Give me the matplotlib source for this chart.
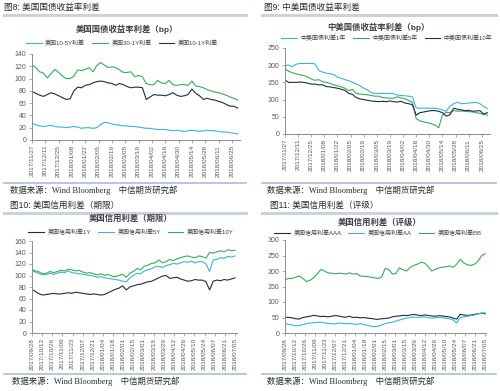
import matplotlib
matplotlib.use("Agg")
import matplotlib.pyplot as plt
import matplotlib.dates as mdates
from matplotlib.lines import Line2D
import pandas as pd

plt.rcParams['font.family'] = ['Liberation Sans', 'Noto Sans CJK SC']

# ---- data ----
dates_a = pd.date_range('2017-11-27', periods=55, freq='4D')
ticks_a = pd.date_range('2017-11-27', '2018-06-25', freq='14D')

us_10_5 = [27, 25, 23, 22, 23, 24, 22, 21, 21, 20, 21, 22, 21, 19, 20, 20, 19, 20, 25, 29,
           28, 26, 25, 24, 23, 23, 22, 22, 21, 20, 19, 19, 18, 17, 17, 17, 16, 15, 16, 15,
           14, 15, 16, 15, 14, 15, 16, 15, 15, 14, 13, 13, 12, 11, 10]
us_30_1 = [122, 118, 111, 109, 101, 108, 115, 110, 104, 100, 100, 104, 114, 113, 115, 118, 111, 121, 126, 122,
           118, 119, 118, 114, 110, 110, 111, 103, 105, 103, 92, 90, 90, 97, 93, 92, 97, 90, 89, 90,
           90, 89, 96, 88, 87, 85, 82, 80, 78, 77, 75, 73, 70, 68, 65]
us_10_1 = [79, 76, 73, 71, 74, 77, 75, 72, 69, 66, 67, 80, 86, 85, 89, 90, 93, 95, 96, 95,
           93, 92, 89, 92, 90, 87, 85, 86, 86, 85, 66, 70, 74, 73, 73, 72, 74, 77, 73, 71,
           72, 74, 83, 76, 72, 66, 68, 66, 65, 63, 61, 58, 55, 55, 52]

cn_us_1y = [199, 200, 196, 203, 205, 205, 205, 205, 204, 185, 180, 177, 175, 173, 165, 162, 158, 155, 150, 146,
            140, 133, 128, 120, 118, 118, 118, 118, 118, 117, 113, 112, 111, 110, 108, 76, 75, 75, 75, 75,
            75, 73, 70, 66, 80, 88, 93, 88, 89, 90, 91, 92, 88, 80, 74]
cn_us_5y = [190, 182, 178, 175, 172, 170, 166, 160, 156, 158, 152, 150, 147, 143, 140, 137, 133, 126, 130, 118,
            116, 115, 114, 112, 110, 110, 106, 105, 104, 104, 108, 105, 102, 98, 92, 45, 38, 35, 33, 30,
            26, 18, 55, 63, 62, 68, 66, 67, 66, 65, 64, 62, 60, 57, 55]
cn_us_10y = [157, 150, 150, 150, 151, 150, 148, 145, 145, 143, 143, 138, 137, 135, 133, 130, 127, 118, 115, 106,
             102, 100, 98, 96, 95, 94, 95, 94, 96, 94, 93, 95, 90, 88, 85, 55, 62, 64, 66, 68,
             68, 66, 62, 52, 56, 75, 72, 70, 68, 69, 66, 67, 68, 58, 62]

dates_b = pd.date_range('2017-09-28', periods=57, freq='5D')
ticks_b = pd.date_range('2017-09-28', '2018-07-05', freq='14D')

credit_1y = [76, 72, 68, 66, 67, 68, 69, 68, 68, 69, 70, 69, 71, 70, 69, 68, 67, 68, 67, 66,
             67, 70, 73, 76, 78, 82, 75, 80, 82, 84, 85, 87, 89, 90, 93, 96, 99, 100, 95, 96,
             97, 94, 92, 90, 91, 93, 92, 92, 89, 75, 90, 92, 91, 93, 92, 94, 96]
credit_5y = [108, 106, 103, 101, 102, 104, 102, 104, 106, 105, 108, 105, 104, 103, 102, 101, 100, 99, 97, 98,
             96, 95, 94, 93, 92, 90, 89, 96, 100, 104, 103, 108, 110, 112, 115, 116, 114, 117, 119, 121,
             120, 122, 124, 123, 125, 122, 124, 124, 120, 107, 127, 128, 131, 130, 133, 132, 134]
credit_10y = [110, 108, 106, 103, 104, 107, 105, 107, 109, 108, 111, 110, 108, 109, 106, 104, 105, 103, 101, 103,
              100, 102, 99, 98, 100, 102, 97, 104, 107, 112, 110, 116, 118, 121, 122, 127, 122, 124, 128, 126,
              129, 131, 133, 134, 132, 131, 134, 133, 130, 140, 139, 141, 143, 141, 145, 143, 144]

credit_aaa = [51, 50, 49, 46, 45, 50, 52, 54, 57, 55, 53, 54, 52, 54, 56, 55, 52, 51, 54, 50,
              51, 49, 50, 48, 47, 45, 44, 46, 47, 48, 52, 54, 55, 57, 56, 58, 60, 58, 56, 58,
              57, 55, 54, 56, 55, 53, 52, 48, 45, 60, 58, 57, 58, 60, 62, 64, 62]
credit_aa = [30, 28, 26, 23, 24, 27, 30, 32, 33, 34, 35, 33, 31, 30, 29, 32, 31, 30, 31, 29,
             28, 30, 27, 25, 22, 20, 22, 26, 30, 33, 35, 38, 42, 45, 48, 50, 52, 50, 51, 52,
             50, 48, 49, 50, 49, 48, 46, 42, 32, 50, 52, 54, 56, 58, 62, 64, 65]
credit_bb = [172, 176, 176, 180, 184, 176, 166, 170, 178, 190, 205, 200, 194, 193, 191, 193, 192, 190, 194, 190,
             192, 184, 183, 182, 180, 178, 176, 180, 208, 205, 190, 192, 210, 204, 200, 212, 218, 222, 228, 226,
             215, 200, 205, 210, 212, 214, 216, 212, 222, 238, 226, 220, 218, 222, 232, 250, 256]

NAVY = '#1f2a4d'
CYAN = '#3db4d2'
GREEN = '#3aab5a'
SEP = '#c9d3e0'
SRC = '#a9bfd6'

W, H = 500, 391
fig = plt.figure(figsize=(W / 100, H / 100), dpi=100)


def fx(px):
    return px / W


def fy(py):
    return 1 - py / H


def hline(x0, x1, y, color, lw):
    fig.add_artist(Line2D([fx(x0), fx(x1)], [fy(y), fy(y)], color=color, lw=lw,
                          transform=fig.transFigure))


def panel(box, dates, series, labels, colors, ylim, yticks, ticks, xright,
          header, hx, hy, title, tx, ty, lx, ly, sx, sy, sep_x):
    left, top, right, bottom = box
    ax = fig.add_axes([fx(left), fy(bottom), fx(right - left), (bottom - top) / H])
    for s, lab, c in zip(series, labels, colors):
        ax.plot(dates, s, color=c, lw=0.8, label=lab)
    ax.set_ylim(*ylim)
    ax.set_yticks(yticks)
    ax.set_xlim(dates[0], dates[0] + pd.Timedelta(days=xright))
    ax.set_xticks(ticks)
    ax.xaxis.set_major_formatter(mdates.DateFormatter('%Y/%m/%d'))
    for sp in ['top', 'right']:
        ax.spines[sp].set_visible(False)
    for sp in ['left', 'bottom']:
        ax.spines[sp].set_color('#8c8c8c')
        ax.spines[sp].set_linewidth(0.7)
    ax.tick_params(axis='x', rotation=90, labelsize=4.6, length=2, width=0.5,
                   colors='#8c8c8c', labelcolor='#595959', pad=1.5)
    ax.tick_params(axis='y', labelsize=5, length=2, width=0.5,
                   colors='#8c8c8c', labelcolor='#595959', pad=2)
    ax.legend(loc='center', bbox_to_anchor=(fx(lx), fy(ly)), bbox_transform=fig.transFigure,
              ncol=3, frameon=False, fontsize=4.3, handlelength=2.6, columnspacing=1.2,
              handletextpad=0.6, labelcolor='#404040')
    fig.text(fx(hx), fy(hy), header, fontsize=6.2, color='#2b2b2b', va='center')
    hline(sep_x[0], sep_x[1], hy + 8, SEP, 2.2)
    fig.text(fx(tx), fy(ty), title, fontsize=6.0, color='#404040', ha='center', va='center',
             fontweight='bold')
    hline(sep_x[0], sep_x[1], sy - 7, SRC, 1.2)
    fig.text(fx(sx), fy(sy), '数据来源：Wind Bloomberg    中信期货研究部', fontsize=6.0,
             color='#2b2b2b', va='center', family=['Liberation Serif', 'Noto Sans CJK SC'])
    return ax


panel((32, 54, 240, 140), dates_a, [us_10_5, us_30_1, us_10_1],
      ['美国10-5Y利差', '美国30-1Y利差', '美国10-1Y利差'], [CYAN, GREEN, NAVY],
      (0, 140), range(0, 141, 20), ticks_a, 218.5,
      '图8: 美国国债收益率利差', 4, 7, '美国国债收益率利差（bp）', 127, 29, 122, 43, 10, 190, (4, 246))

panel((285, 48, 490, 134), dates_a, [cn_us_1y, cn_us_5y, cn_us_10y],
      ['中美国债利差1年', '中美国债利差5年', '中美国债利差10年'], [CYAN, GREEN, NAVY],
      (0, 250), range(0, 251, 50), ticks_a, 218.8,
      '图9: 中美国债收益率利差', 264, 7, '中美国债收益率利差（bp）', 378, 27, 387, 38, 267, 190, (262, 496))

panel((32, 241, 237, 333), dates_b, [credit_1y, credit_5y, credit_10y],
      ['美国信用利差1Y', '美国信用利差5Y', '美国信用利差10Y'], [NAVY, CYAN, GREEN],
      (0, 160), range(0, 161, 20), ticks_b, 282.8,
      '图10: 美国信用利差（期限）', 10, 205, '美国信用利差（期限）', 131, 219, 131, 232, 12, 381, (4, 246))

panel((285, 240, 486, 333), dates_b, [credit_aaa, credit_aa, credit_bb],
      ['美国信用利差AAA', '美国信用利差AA', '美国信用利差BB'], [NAVY, CYAN, GREEN],
      (0, 300), range(0, 301, 50), ticks_b, 281,
      '图11: 美国信用利差（评级）', 270, 205, '美国信用利差（评级）', 380, 222, 378, 233, 267, 381, (262, 496))

fig.savefig('out.png', dpi=100)
